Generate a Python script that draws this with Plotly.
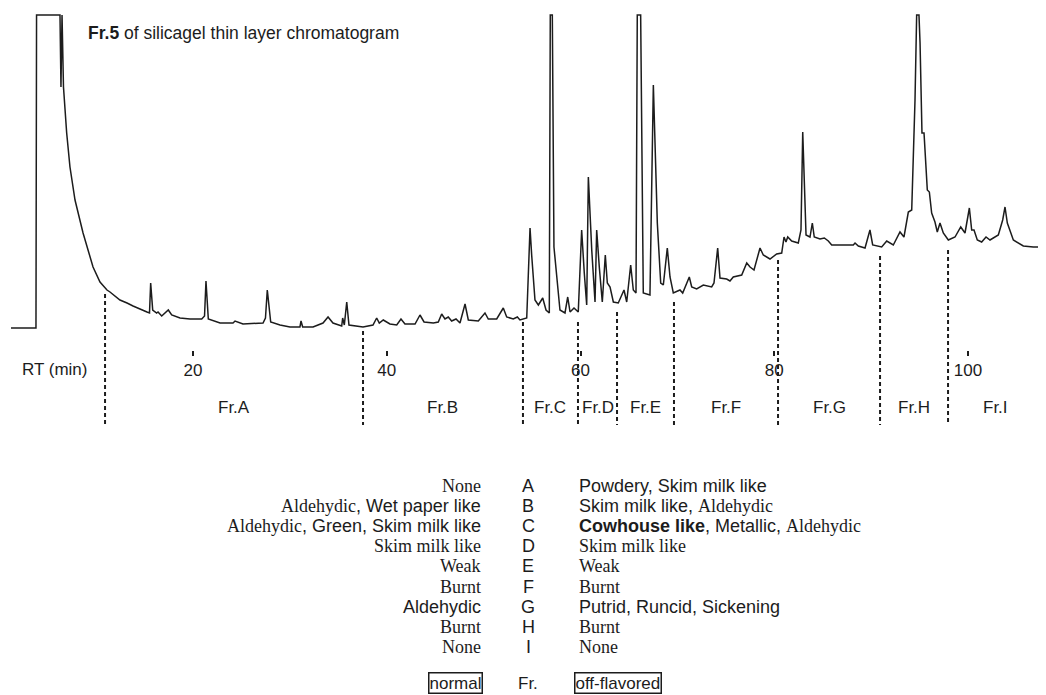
import plotly.graph_objects as go

# ---- chromatogram trace (retention time in min, detector response in arbitrary units) ----
rt = [1.21, 3.79, 3.85, 6.27, 6.37, 6.48, 6.63, 6.96, 7.30, 7.82, 8.65, 9.68, 10.40, 11.12, 11.43,
      12.46, 13.19, 13.81, 15.25, 15.51, 15.63, 15.84, 16.25, 16.39, 16.77, 17.45, 17.80, 18.66,
      19.69, 20.90, 21.19, 21.34, 21.58, 22.79, 24.13, 24.34, 25.16, 27.23, 27.48, 27.67, 28.02,
      28.98, 30.01, 31.04, 31.15, 31.32, 32.39, 33.42, 33.94, 34.45, 35.35, 35.45, 35.62, 35.87,
      36.10, 37.55, 38.58, 38.96, 39.23, 39.64, 40.33, 41.03, 41.47, 41.88, 42.92, 43.43, 43.85,
      44.81, 45.32, 45.67, 46.01, 46.35, 46.70, 47.15, 47.56, 48.08, 48.42, 49.45, 50.14, 50.48,
      51.35, 52.03, 52.38, 53.06, 53.48, 53.75, 54.45, 54.79, 54.96, 55.30, 55.65, 56.10, 56.44,
      56.78, 56.88, 57.09, 57.26, 57.54, 57.88, 58.40, 58.68, 58.92, 59.33, 59.77, 60.12, 60.39,
      60.64, 60.81, 61.16, 61.50, 61.67, 61.94, 62.25, 62.56, 62.77, 63.05, 63.39, 63.90, 64.49,
      64.77, 65.18, 65.45, 65.73, 65.86, 66.21, 66.48, 67.17, 67.52, 67.79, 67.93, 68.28, 68.55,
      68.96, 69.24, 69.58, 70.27, 70.55, 71.02, 71.23, 71.48, 71.99, 72.68, 73.54, 73.78, 74.16,
      74.40, 75.09, 75.43, 75.77, 76.64, 77.16, 77.50, 77.91, 78.53, 78.87, 79.56, 80.25, 80.77,
      81.01, 81.21, 81.39, 81.80, 82.48, 82.76, 82.94, 83.28, 83.69, 83.93, 84.13, 84.72, 85.17,
      85.58, 85.93, 88.16, 88.34, 88.68, 89.37, 89.88, 90.16, 91.09, 91.61, 92.29, 92.98, 93.39,
      93.84, 94.19, 94.53, 94.70, 94.94, 95.05, 95.25, 95.46, 95.80, 96.01, 96.25, 96.59, 96.83,
      97.11, 97.45, 97.97, 98.66, 99.25, 99.69, 100.14, 100.38, 100.62, 100.96, 101.41, 101.86,
      102.27, 103.13, 103.58, 103.82, 104.06, 104.68, 105.71, 106.74, 108.05]
response = [0, 0, 313, 313, 241, 313, 241, 195, 161, 128, 95, 61, 46, 38, 36,
            28, 25, 22, 16, 15, 45, 18, 15, 16, 12, 18, 13, 10,
            9, 9, 12, 47, 9, 5, 5, 7, 4, 5, 10, 38, 6,
            3, 1, 1, 7, 1, 1, 5, 11, 5, 2, 10, 3, 26,
            3, 1, 3, 10, 5, 8, 4, 3, 9, 4, 4, 13, 6,
            5, 6, 14, 9, 11, 7, 9, 5, 24, 8, 7, 15, 9,
            9, 20, 11, 9, 11, 8, 10, 100, 73, 28, 23, 30, 18,
            15, 313, 313, 81, 51, 18, 15, 31, 16, 20, 16, 98, 55,
            23, 151, 78, 26, 98, 61, 26, 73, 45, 41, 26, 25, 38,
            26, 63, 38, 35, 313, 313, 35, 33, 243, 131, 105, 45, 43,
            80, 51, 35, 38, 35, 46, 51, 41, 39, 43, 41, 45, 80,
            50, 49, 47, 51, 53, 65, 61, 58, 80, 73, 69, 74, 75,
            91, 86, 91, 87, 85, 98, 196, 93, 91, 105, 91, 89, 90,
            87, 83, 83, 85, 82, 80, 98, 83, 81, 87, 83, 96, 91,
            116, 118, 228, 313, 313, 285, 195, 195, 138, 136, 115, 106, 96,
            105, 95, 88, 91, 101, 95, 120, 98, 98, 88, 86, 91,
            88, 93, 108, 121, 105, 88, 82, 81, 81]

# ---- fraction boundaries (min) and where each cut mark starts (response units) ----
boundary_rt = [10.92, 37.55, 54.06, 59.74, 63.77, 69.65, 80.39, 90.92, 97.94, 107.74]
boundary_top = [34, -3, 6, 6, 16, 26, 68, 72, 78, 76]
boundary_bottom = -97
fraction_labels = ["Fr.A", "Fr.B", "Fr.C", "Fr.D", "Fr.E", "Fr.F", "Fr.G", "Fr.H", "Fr.I"]

tick_values = [20, 40, 60, 80, 100]
tick_labels = ["20", "40", "60", "80", "100"]

# ---- odour description table ----
fraction_letters = ["A", "B", "C", "D", "E", "F", "G", "H", "I"]
normal_odour = ["None", "Aldehydic, Wet paper like", "Aldehydic, Green, Skim milk like",
                "Skim milk like", "Weak", "Burnt", "Aldehydic", "Burnt", "None"]
offflavor_odour = ["Powdery, Skim milk like", "Skim milk like, Aldehydic",
                   "Cowhouse like, Metallic, Aldehydic", "Skim milk like", "Weak", "Burnt",
                   "Putrid, Runcid, Sickening", "Burnt", "None"]

# typeface of each comma-separated phrase (reproduces the mixed typesetting)
normal_faces = [["serif"], ["serif", "sans"], ["serif", "sans", "sans"], ["serif"], ["serif"],
                ["serif"], ["sans"], ["serif"], ["serif"]]
offflavor_faces = [["sans", "sans"], ["sans", "serif"], ["bold", "sans", "serif"], ["serif"],
                   ["serif"], ["serif"], ["sans", "sans", "sans"], ["serif"], ["serif"]]

SANS = "Liberation Sans, Arial, Helvetica, sans-serif"
SERIF = "Liberation Serif"
INK = "#1c1c1c"

W, H = 1046, 695
OFF = 8                      # page body margin of the exported html
M_T, M_B = 13 - OFF, 275
PLOT_TOP = M_T
PLOT_H = H - M_T - M_B


def t_at(px):
    # screen pixel -> retention time (20 min at 193 px, 100 min at 968 px)
    return 20 + (px - 193) / 9.6875


def px_x(px):
    return (px - OFF) / W


def px_y(py):
    return (PLOT_TOP + PLOT_H - (py - OFF)) / PLOT_H


def styled(text, faces):
    parts = text.split(", ")
    out = []
    for p, f in zip(parts, faces):
        if f == "serif":
            out.append(f"<span style=\"font-family:{SERIF}\">{p}</span>")
        elif f == "bold":
            out.append(f"<b>{p}</b>")
        else:
            out.append(p)
    return ", ".join(out)


fig = go.Figure()
fig.add_trace(go.Scatter(x=rt, y=response, mode="lines",
                         line=dict(color=INK, width=1.5), hoverinfo="skip",
                         showlegend=False))

shapes = []
for i, b in enumerate(boundary_rt):
    shapes.append(dict(type="line", xref="x", yref="y", x0=b, x1=b,
                       y0=boundary_top[i], y1=boundary_bottom,
                       line=dict(color=INK if i < len(boundary_rt) - 1 else "#a0a0a0",
                                 width=2, dash="4px,3px")))

annotations = []
for i, lab in enumerate(fraction_labels):
    annotations.append(dict(x=(boundary_rt[i] + boundary_rt[i + 1]) / 2, y=-79,
                            xref="x", yref="y", text=lab, showarrow=False,
                            xanchor="center", yanchor="middle",
                            font=dict(family=SANS, size=17, color=INK)))

annotations.append(dict(x=px_x(90), y=px_y(369), xref="paper", yref="paper",
                        text="RT (min)", showarrow=False, xanchor="right", yanchor="middle",
                        font=dict(family=SANS, size=17, color=INK)))
annotations.append(dict(x=px_x(86), y=px_y(33), xref="paper", yref="paper",
                        text="<b>Fr.5</b> of silicagel thin layer chromatogram",
                        showarrow=False, xanchor="left", yanchor="middle",
                        font=dict(family=SANS, size=17.5, color=INK)))

row0, row_step = 486, 20.1
for i in range(len(fraction_letters)):
    yy = px_y(row0 + row_step * i)
    annotations.append(dict(x=px_x(483), y=yy, xref="paper", yref="paper",
                            text=styled(normal_odour[i], normal_faces[i]),
                            showarrow=False, xanchor="right", yanchor="middle",
                            font=dict(family=SANS, size=18, color=INK)))
    annotations.append(dict(x=px_x(528), y=yy, xref="paper", yref="paper",
                            text=fraction_letters[i], showarrow=False,
                            xanchor="center", yanchor="middle",
                            font=dict(family=SANS, size=18, color=INK)))
    annotations.append(dict(x=px_x(577), y=yy, xref="paper", yref="paper",
                            text=styled(offflavor_odour[i], offflavor_faces[i]),
                            showarrow=False, xanchor="left", yanchor="middle",
                            font=dict(family=SANS, size=18, color=INK)))

yy = px_y(683)
annotations.append(dict(x=px_x(455), y=yy, xref="paper", yref="paper", text="normal",
                        showarrow=False, xanchor="center", yanchor="middle",
                        bordercolor=INK, borderwidth=1.5, borderpad=0,
                        font=dict(family=SANS, size=17, color=INK)))
annotations.append(dict(x=px_x(528), y=yy, xref="paper", yref="paper", text="Fr.",
                        showarrow=False, xanchor="center", yanchor="middle",
                        font=dict(family=SANS, size=17, color=INK)))
annotations.append(dict(x=px_x(574), y=yy, xref="paper", yref="paper", text="off-flavored",
                        showarrow=False, xanchor="left", yanchor="middle",
                        bordercolor=INK, borderwidth=1.5, borderpad=0,
                        font=dict(family=SANS, size=17, color=INK)))

fig.update_layout(
    width=W, height=H,
    margin=dict(l=0, r=0, t=M_T, b=M_B, pad=0),
    paper_bgcolor="white", plot_bgcolor="white",
    xaxis=dict(range=[t_at(OFF), t_at(OFF + W)], showgrid=False, zeroline=False,
               showline=False, tickmode="array", tickvals=tick_values, ticktext=tick_labels,
               ticks="outside", ticklen=5, tickwidth=1.5, tickcolor=INK,
               tickfont=dict(family=SANS, size=17, color=INK),
               anchor="free", position=px_y(350), fixedrange=True),
    yaxis=dict(range=[-100, 315], visible=False, fixedrange=True),
    shapes=shapes, annotations=annotations,
)

fig.write_html("out.html")
